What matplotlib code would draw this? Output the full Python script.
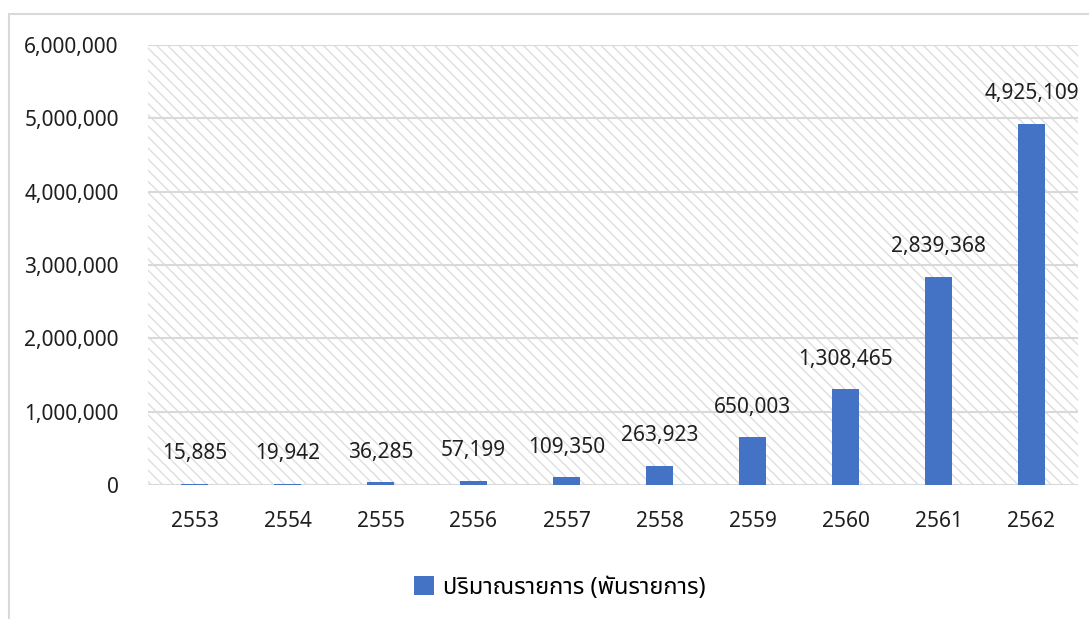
import matplotlib
matplotlib.use('Agg')
import matplotlib.pyplot as plt
from matplotlib.patches import Rectangle
import numpy as np

plt.rcParams['font.family'] = ['Noto Sans Thai', 'Noto Sans', 'DejaVu Sans']
plt.rcParams['hatch.color'] = '#dedede'
plt.rcParams['hatch.linewidth'] = 1.0

years = ['2553', '2554', '2555', '2556', '2557', '2558', '2559', '2560', '2561', '2562']
volumes = [15885, 19942, 36285, 57199, 109350, 263923, 650003, 1308465, 2839368, 4925109]
series_name = 'ปริมาณรายการ (พันรายการ)'
yticks = [0, 1000000, 2000000, 3000000, 4000000, 5000000, 6000000]

W, H = 1089, 619
fig = plt.figure(figsize=(W / 100, H / 100), dpi=100)

# chart frame (cropped excel chart)
fig.patches.append(Rectangle((9 / W, -0.1), 1.2, 1 - 14 / H + 0.1, transform=fig.transFigure,
                             fill=False, edgecolor='#d9d9d9', linewidth=1.5, zorder=0))

ax = fig.add_axes([148 / W, 1 - 485 / H, (1078 - 148) / W, (485 - 45) / H])
x = np.arange(len(years))

# hatched plot area background
ax.add_patch(Rectangle((0, 0), 1, 1, transform=ax.transAxes, facecolor='white',
                       hatch='\\\\\\', edgecolor='#dedede', linewidth=0, zorder=0))

bars = ax.bar(x, volumes, width=0.28, color='#4472C4', zorder=3, label=series_name)

for xi, v in zip(x, volumes):
    ax.annotate(f'{v:,}', (xi, v), xytext=(0, 14), textcoords='offset points',
                ha='center', va='bottom', fontsize=15, color='#1f1f1f')

ax.set_xlim(-0.5, len(years) - 0.5)
ax.set_ylim(0, 6000000)
ax.set_yticks(yticks)
ax.set_yticklabels([f'{t:,}' for t in yticks])
ax.set_xticks(x)
ax.set_xticklabels(years)
ax.tick_params(axis='both', length=0, labelsize=15, labelcolor='#1f1f1f')
ax.tick_params(axis='y', pad=21)
ax.tick_params(axis='x', pad=19)
ax.yaxis.grid(True, color='#d9d9d9', linewidth=1.5, zorder=1)
ax.set_axisbelow(True)
for s in ax.spines.values():
    s.set_visible(False)

fig.legend(handles=[bars], labels=[series_name], loc='center',
           bbox_to_anchor=(560 / W, 1 - 588 / H), frameon=False, fontsize=17,
           handlelength=0.85, handleheight=0.85, handletextpad=0.4)

fig.savefig('out.png', dpi=100)
